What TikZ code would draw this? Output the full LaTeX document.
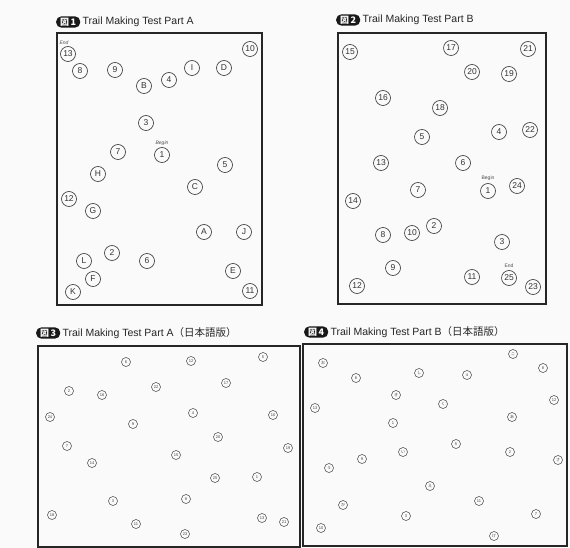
\documentclass[tikz,border=0pt]{standalone}
\usepackage{fontspec}
\setmainfont{Liberation Sans}
\newfontfamily\cjk{Noto Sans CJK JP}
\begin{document}
\begin{tikzpicture}[x=1pt,y=-1pt,
  frame/.style={draw=black!85,line width=1.3pt},
  bigc/.style={circle,draw=black!80,line width=0.6pt,inner sep=0pt,minimum size=15pt,font=\fontsize{8.5}{8.5}\selectfont,text=black!80},
  smallc/.style={circle,draw=black!75,line width=0.5pt,inner sep=0pt,minimum size=9pt,font=\fontsize{4}{4}\selectfont,text=black!75},
  smallk/.style={smallc,font=\cjk\fontsize{4}{4}\selectfont},
  badge/.style={fill=black!90,text=white,rounded corners=5pt,inner xsep=4pt,inner ysep=1.5pt,font=\cjk\bfseries\fontsize{9}{10}\selectfont,anchor=west},
  ttl/.style={anchor=west,inner xsep=2pt,font=\fontsize{10.5}{11}\selectfont,text=black!85},
  lab/.style={font=\itshape\fontsize{5}{5}\selectfont,text=black!70,inner sep=0pt},
  labu/.style={font=\fontsize{5}{5}\selectfont,text=black!70,inner sep=0pt}]
\useasboundingbox[fill=black!2] (0,0) rectangle (570,548);
% frames
\draw[frame] (57,33) rectangle (262,305);
\draw[frame] (338,33) rectangle (546,304);
\draw[frame] (38,346) rectangle (300,547);
\draw[frame] (303,344) rectangle (567,546);
% titles
\node[badge] (b1) at (56,22) {図\,1};
\node[ttl] (t1) at (b1.east) {Trail Making Test Part A};
\node[badge] (b2) at (336,20) {図\,2};
\node[ttl] (t2) at (b2.east) {Trail Making Test Part B};
\node[badge] (b3) at (36,333) {図\,3};
\node[ttl] (t3) at (b3.east) {Trail Making Test Part A{\cjk（日本語版）}};
\node[badge] (b4) at (304,332) {図\,4};
\node[ttl] (t4) at (b4.east) {Trail Making Test Part B{\cjk（日本語版）}};
% panel 1
\foreach \t/\x/\y/\n in {13/68/54/p13,8/80/71/p8,9/115/70/p9,B/144/86/pB,4/169/80/p4,I/192/68/pI,D/224/68/pD,10/250/49/p10,3/146/123/p3,1/162/155/p1,7/118/152/p7,5/225/165/p5,H/98/174/pH,C/195/187/pC,12/69/199/p12,G/93/211/pG,A/204/232/pA,J/244/232/pJ,2/112/253/p2,L/84/261/pL,6/147/261/p6,E/233/271/pE,F/93/279/pF,K/73/292/pK,11/250/291/p11}
  \node[bigc] (a\n) at (\x,\y) {\t};
\node[lab] (aend) at (64,43) {End};
\node[lab] (abegin) at (162,143) {Begin};
% panel 2
\foreach \t/\x/\y in {15/350/52,17/451/48,21/528/49,20/472/72,19/509/74,16/383/98,18/440/108,4/499/132,22/530/130,5/422/137,13/381/163,6/463/163,1/488/191,24/517/186,7/418/190,14/353/201,2/434/226,8/383/235,10/412/233,3/502/242,9/393/268,25/509/278,11/472/277,12/357/286,23/533/287}
  \node[bigc] (b\t) at (\x,\y) {\t};
\node[labu] (bbegin) at (488,178) {Begin};
\node[labu] (bend) at (509,266) {End};
% panel 3
\foreach \t/\x/\y in {6/126/362,2/69/391,16/102/395,22/156/387,24/50/417,9/133/424,12/191/361,5/263/357,17/226/383,4/193/413,10/273/415,7/67/446,14/92/463,3/113/501,18/52/515,11/136/524,20/218/437,19/288/448,15/176/455,25/215/478,1/257/477,8/186/499,13/262/518,21/284/522,23/185/534}
  \node[smallc] (c\t) at (\x,\y) {\t};
% panel 4 numbers
\foreach \t/\x/\y in {1/393/423,2/510/452,3/406/516,4/467/375,5/456/444,6/356/378,7/536/514,8/543/368,9/362/459,10/321/528,11/479/501,12/554/400,13/315/408}
  \node[smallc] (d\t) at (\x,\y) {\t};
% panel 4 kana
\foreach \t/\x/\y/\n in {あ/512/417/1,い/403/452/2,う/329/468/3,え/430/486/4,お/323/363/5,か/343/505/6,き/396/395/7,く/443/404/8,け/494/536/9,こ/513/354/10,さ/558/460/11,し/419/373/12}
  \node[smallk] (k\n) at (\x,\y) {\t};
\end{tikzpicture}
\end{document}
